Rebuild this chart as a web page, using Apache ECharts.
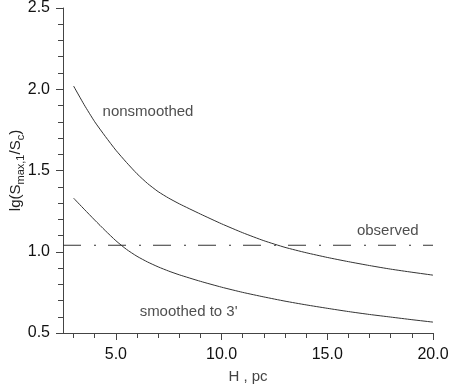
<!DOCTYPE html>
<html>
<head>
<meta charset="utf-8">
<script src="https://cdn.jsdelivr.net/npm/echarts@6/dist/echarts.min.js"></script>
<style>
  html, body { margin: 0; padding: 0; background: #fff; }
  #chart { width: 450px; height: 387px; }
</style>
</head>
<body>
<div id="chart"></div>
<script>
// H, pc
const hValues = [3, 3.5, 4, 4.5, 5, 5.5, 6, 6.5, 7, 7.5, 8, 9, 10, 11, 12, 13, 14, 15, 16, 17, 18, 19, 20]
// lg(Smax,1/Sc) - nonsmoothed
const nonsmoothed = [2.02, 1.905, 1.80, 1.71, 1.625, 1.55, 1.48, 1.42, 1.37, 1.33, 1.295, 1.232, 1.172, 1.117, 1.068, 1.027, 0.994, 0.965, 0.939, 0.915, 0.893, 0.874, 0.856]
// lg(Smax,1/Sc) - smoothed to 3'
const smoothed = [1.33, 1.262, 1.195, 1.13, 1.068, 1.015, 0.972, 0.937, 0.907, 0.881, 0.858, 0.818, 0.782, 0.75, 0.722, 0.696, 0.673, 0.652, 0.632, 0.614, 0.598, 0.582, 0.567]
// observed level
const observed = 1.04
// ticks
const xTickValues = [5, 10, 15, 20]
const xMinorTicks = [3, 4, 6, 7, 8, 9, 11, 12, 13, 14, 16, 17, 18, 19]
// annotations
const noteTexts = ['nonsmoothed', 'observed', "smoothed to 3'"]
const noteAt = [[6.52, 1.86], [17.86, 1.128], [8.44, 0.633]]

const font = 'Liberation Sans, Arial, sans-serif'
const chart = echarts.init(document.getElementById('chart'))

const zip = (xs, ys) => xs.map((x, i) => [x, ys[i]])

const option = {
  animation: false,
  grid: { left: 63, right: 17, top: 8, bottom: 54, outerBoundsMode: 'none' },
  xAxis: [
    {
      type: 'value',
      min: 2.5,
      max: 20,
      name: 'H , pc',
      nameLocation: 'middle',
      nameGap: 36,
      nameMoveOverlap: false,
      nameTextStyle: { fontFamily: font, fontSize: 15, color: '#444' },
      axisLine: { lineStyle: { color: '#444', width: 1 } },
      axisTick: { customValues: xTickValues, length: 7, lineStyle: { color: '#444' } },
      axisLabel: {
        customValues: xTickValues,
        formatter: (v) => v.toFixed(1),
        fontFamily: font,
        fontSize: 16,
        color: '#111',
        margin: 14
      },
      splitLine: { show: false }
    },
    {
      // minor ticks only
      type: 'value',
      min: 2.5,
      max: 20,
      position: 'bottom',
      axisLine: { show: false },
      axisTick: { customValues: xMinorTicks, length: 5, lineStyle: { color: '#444' } },
      axisLabel: { show: false },
      splitLine: { show: false }
    }
  ],
  yAxis: {
    type: 'value',
    min: 0.5,
    max: 2.5,
    interval: 0.5,
    name: '{a|lg(S}{b|max,1}{a|/S}{b|c}{a|)}',
    nameLocation: 'middle',
    nameGap: 37,
    nameMoveOverlap: false,
    nameTextStyle: {
      fontFamily: font,
      rich: {
        a: { fontFamily: font, fontSize: 15, color: '#222', lineHeight: 20 },
        b: { fontFamily: font, fontSize: 11, color: '#222', verticalAlign: 'bottom', lineHeight: 11, padding: [8, 0, 0, 0] }
      }
    },
    axisLine: { show: true, lineStyle: { color: '#444', width: 1 } },
    axisTick: { show: true, length: 7, lineStyle: { color: '#444' } },
    minorTick: { show: true, splitNumber: 5, length: 5, lineStyle: { color: '#444' } },
    axisLabel: {
      formatter: (v) => v.toFixed(1),
      fontFamily: font,
      fontSize: 16,
      color: '#111',
      margin: 13
    },
    splitLine: { show: false }
  },
  series: [
    {
      name: 'nonsmoothed',
      type: 'line',
      data: zip(hValues, nonsmoothed),
      smooth: 0.2,
      showSymbol: false,
      lineStyle: { color: '#333', width: 1 }
    },
    {
      name: 'smoothed',
      type: 'line',
      data: zip(hValues, smoothed),
      smooth: 0.2,
      showSymbol: false,
      lineStyle: { color: '#333', width: 1 }
    },
    {
      name: 'observed',
      type: 'line',
      data: [[2.5, observed], [20, observed]],
      showSymbol: false,
      lineStyle: { color: '#333', width: 1, type: [18, 13, 2, 12] }
    },
    {
      name: 'notes',
      type: 'scatter',
      symbolSize: 0,
      data: noteAt.map((p, i) => ({ value: p, name: noteTexts[i] })),
      label: {
        show: true,
        position: 'inside',
        formatter: (p) => p.name,
        fontFamily: font,
        fontSize: 15,
        color: '#222'
      }
    }
  ]
}

chart.setOption(option)
</script>
</body>
</html>
